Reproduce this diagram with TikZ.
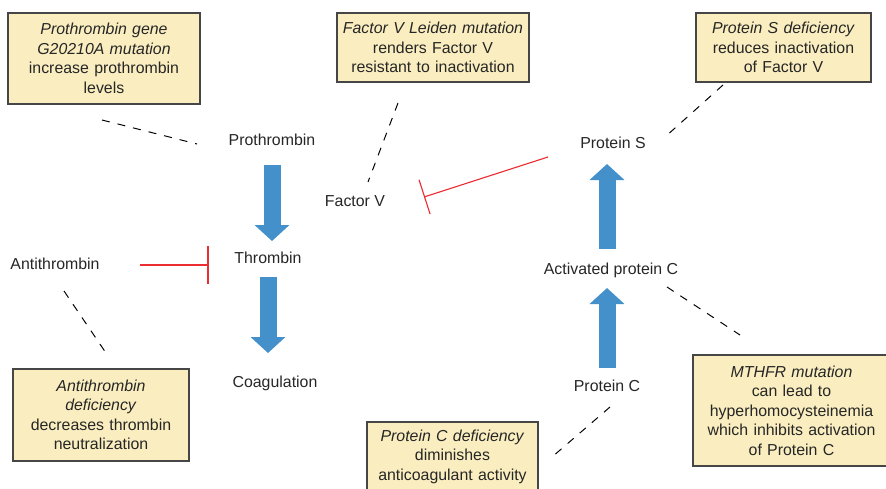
\documentclass[tikz,border=0pt]{standalone}
\usepackage{fontspec}
\setmainfont{Liberation Sans}
\usepackage{tikz}
\usetikzlibrary{arrows.meta}

\definecolor{boxyellow}{RGB}{250,238,192}
\definecolor{boxedge}{RGB}{70,70,70}
\definecolor{flowblue}{RGB}{67,144,203}
\definecolor{inhibred}{RGB}{235,45,50}

\begin{document}
\begin{tikzpicture}[
    every node/.style={font=\fontsize{11.3}{13.9}\selectfont, text=black!85},
    defectbox/.style={draw=boxedge, line width=0.85pt, fill=boxyellow, align=center, inner sep=0pt},
    factor/.style={inner sep=0pt, text height=1.5ex, text depth=.25ex},
    flow/.style={draw=flowblue, line width=0.425cm, -{Triangle[width=0.85cm,length=0.4cm]}},
    inhibit/.style={draw=inhibred, color=inhibred, line width=0.8pt},
    link/.style={draw=black, line width=0.7pt, dash pattern=on 0.2cm off 0.2cm}
  ]
    \useasboundingbox (0,0) rectangle (22.15,12.2);

    \node[defectbox, minimum width=4.8cm, minimum height=2.275cm, text width=4.6cm] (prodef) at (2.6,10.7375)
      {\textit{Prothrombin gene}\\ \textit{G20210A mutation}\\ increase prothrombin\\ levels};
    \node[defectbox, minimum width=4.8cm, minimum height=1.725cm, text width=4.6cm] (fvdef) at (10.825,11.0125)
      {\textit{Factor V Leiden mutation}\\ renders Factor V\\ resistant to inactivation};
    \node[defectbox, minimum width=4.375cm, minimum height=1.725cm, text width=4.2cm] (psdef) at (19.5875,11.0125)
      {\textit{Protein S deficiency}\\ reduces inactivation\\ of Factor V};
    \node[defectbox, minimum width=4.4cm, minimum height=2.3cm, text width=4.2cm] (atdef) at (2.525,1.825)
      {\textit{Antithrombin}\\ \textit{deficiency}\\ decreases thrombin\\ neutralization};
    \node[defectbox, minimum width=4.275cm, minimum height=1.725cm, text width=4.1cm] (pcdef) at (11.3125,0.7875)
      {\textit{Protein C deficiency}\\ diminishes\\ anticoagulant activity};
    \node[defectbox, minimum width=4.925cm, minimum height=2.775cm, text width=4.6cm] (mthfr) at (19.7875,1.9375)
      {\textit{MTHFR mutation}\\ can lead to\\ hyperhomocysteinemia\\ which inhibits activation\\ of Protein C};

    \node[factor] (pro) at (6.8,8.675) {Prothrombin};
    \node[factor] (fv) at (8.875,7.15) {Factor V};
    \node[factor] (thr) at (6.7,5.725) {Thrombin};
    \node[factor] (anti) at (1.375,5.575) {Antithrombin};
    \node[factor] (coag) at (6.875,2.625) {Coagulation};
    \node[factor] (ps) at (15.325,8.6) {Protein S};
    \node[factor] (apc) at (15.275,5.45) {Activated protein C};
    \node[factor] (pc) at (15.175,2.525) {Protein C};

    \draw[flow, shorten <=0.6cm, shorten >=0.45cm] (pro.center) -- (pro |- thr);
    \draw[flow, shorten <=0.45cm, shorten >=0.75cm] (thr.center) -- (thr |- coag);
    \draw[flow, shorten <=0.475cm, shorten >=0.45cm] (pc.center) -- (pc |- apc);
    \draw[flow, shorten <=0.525cm, shorten >=0.5cm] (pc |- apc) -- (pc |- ps);

    \draw[inhibit, -{Bar[width=0.95cm, line width=1.1pt]}, shorten <=1cm, shorten >=0.64cm] (anti.east) -- (anti.east -| thr.west);
    \coordinate (ps-in) at (13.7,8.275);
    \coordinate (fv-in) at (10.6,7.275);
    \draw[inhibit, -{Bar[width=0.9cm]}] (ps-in) -- (fv-in);

    \coordinate (prodef-a) at (2.55,9.2);
    \coordinate (pro-a) at (4.925,8.6);
    \coordinate (fvdef-a) at (9.95,9.625);
    \coordinate (fv-a) at (9.2,7.65);
    \coordinate (psdef-a) at (18.075,10.075);
    \coordinate (ps-a) at (16.625,8.775);
    \coordinate (anti-a) at (1.6,4.925);
    \coordinate (atdef-a) at (2.65,3.375);
    \coordinate (pc-a) at (15.25,2.025);
    \coordinate (pcdef-a) at (13.8,0.775);
    \coordinate (apc-a) at (16.675,5.025);
    \coordinate (mthfr-a) at (18.5,3.825);

    \draw[link] (prodef-a) -- (pro-a);
    \draw[link] (fvdef-a) -- (fv-a);
    \draw[link] (psdef-a) -- (ps-a);
    \draw[link] (anti-a) -- (atdef-a);
    \draw[link] (pc-a) -- (pcdef-a);
    \draw[link] (apc-a) -- (mthfr-a);

\end{tikzpicture}
\end{document}
